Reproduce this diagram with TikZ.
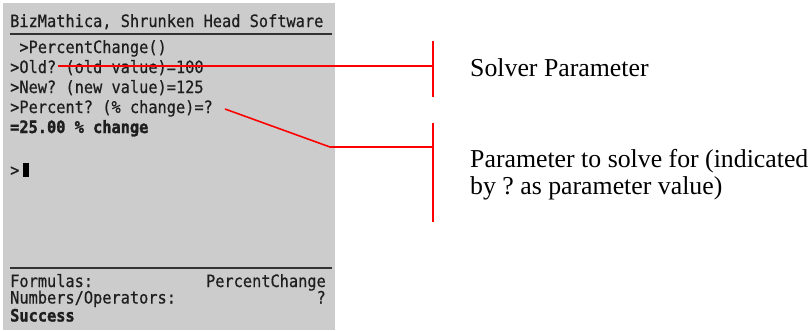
\documentclass[tikz,border=0pt]{standalone}
\usepackage{fontspec}
\setmainfont{Liberation Serif}
\newfontfamily\palmfont[FakeStretch=0.9,FakeBold=0.6]{DejaVu Sans Mono}
\newfontfamily\palmbold[FakeStretch=0.9,FakeBold=1.6]{DejaVu Sans Mono Bold}
\definecolor{screengrey}{RGB}{204,204,204}
\definecolor{ruledark}{RGB}{50,50,50}
\definecolor{screentext}{RGB}{30,30,30}
\frenchspacing
\begin{document}
\begin{tikzpicture}[x=1pt,y=-1pt,
  scr/.style={anchor=base west,inner sep=0pt,text=screentext,font=\palmfont\fontsize{17}{18}\selectfont},
  scrr/.style={scr,anchor=base east},
  scrb/.style={scr,font=\palmbold\fontsize{17}{18}\selectfont},
  callout/.style={anchor=base west,inner sep=0pt,font=\fontsize{25.8}{27}\selectfont},
  redline/.style={draw=red,line width=1.6pt},
  rule/.style={draw=ruledark,line width=2pt}]
\useasboundingbox (0,0) rectangle (812,330);
% handheld screen
\fill[screengrey] (3,3) rectangle (335,330);
\node[scr] (title) at (10,27) {BizMathica, Shrunken Head Software};
\draw[rule] (10,33.5) -- (332,33.5);
\node[scr] (l1) at (10,53) {\ >PercentChange()};
\node[scr] (l2) at (10,73) {>Old? (old value)=100};
\node[scr] (l3) at (10,93) {>New? (new value)=125};
\node[scr] (l4) at (10,113) {>Percent? (\% change)=?};
\node[scrb] (l5) at (10,133) {=25.00 \% change};
\node[scr] (prompt) at (10,176) {>};
\fill[black] (23,163) rectangle (29,177);
\draw[rule] (10,268) -- (332,268);
\node[scr] (formulas) at (10,287) {Formulas:};
\node[scrr] (fname) at (326,287) {PercentChange};
\node[scr] (numops) at (10,303.5) {Numbers/Operators:};
\node[scrr] (qmark) at (326,303.5) {?};
\node[scrb] (status) at (10,321.5) {Success};
% callout brackets
\coordinate (b1top) at (433,41);
\coordinate (b1bot) at (433,97);
\coordinate (b1mid) at (433,66);
\coordinate (b2top) at (433,123);
\coordinate (b2bot) at (433,222);
\coordinate (b2mid) at (433,147);
\draw[redline] (b1top) -- (b1bot);
\draw[redline] (b2top) -- (b2bot);
% leaders
\coordinate (oldpt) at (58,66);
\coordinate (pctpt) at (225,109);
\coordinate (knee) at (330,147);
\draw[redline] (oldpt) -- (b1mid);
\draw[redline] (pctpt) -- (knee) -- (b2mid);
% callout texts
\node[callout] (solver) at (470,76) {Solver Parameter};
\node[callout] (solvefor1) at (470,167) {Parameter to solve for (indicated};
\node[callout] (solvefor2) at (470,194) {by ? as parameter value)};
\end{tikzpicture}
\end{document}
